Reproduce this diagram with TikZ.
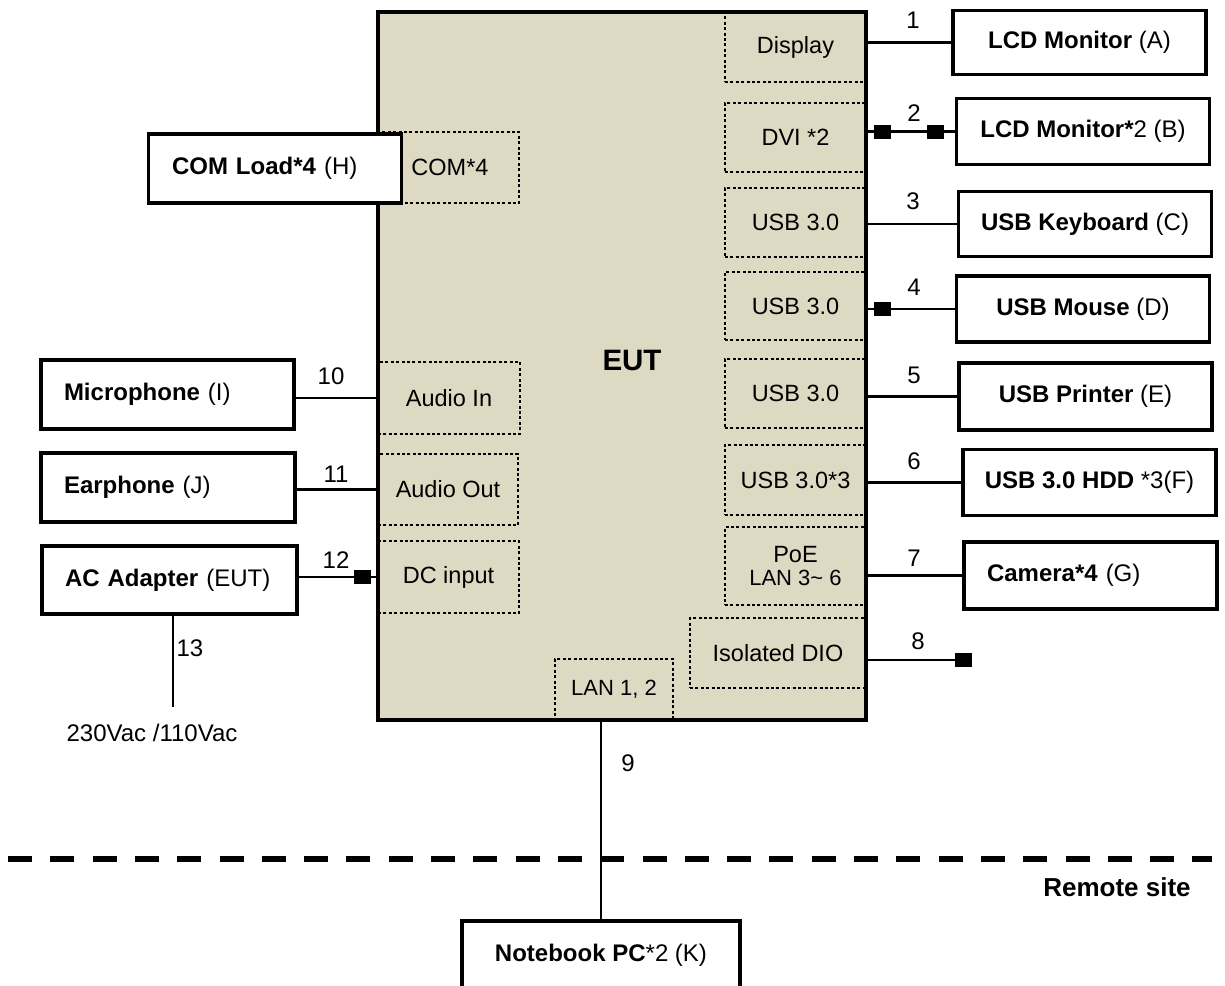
\documentclass[tikz,border=0pt]{standalone}
\usepackage{fontspec}
\setmainfont{Liberation Sans}
\definecolor{eutfill}{RGB}{221,217,195}
\begin{document}
\begin{tikzpicture}[x=1pt,y=-1pt,
  port/.style={draw, line width=2.8pt, dash pattern=on 3pt off 2.4pt, inner sep=0pt, align=center, font=\fontsize{23.5}{27}\selectfont},
  dev/.style={draw, line width=3.5pt, fill=white, inner sep=0pt, minimum width=253pt, minimum height=66pt, font=\fontsize{24}{28}\selectfont},
  devl/.style={dev, align=left, inner xsep=23pt},
  wire/.style={line width=2.8pt},
  num/.style={font=\fontsize{24}{28}\selectfont, inner sep=0pt},
  sq/.style={fill=black, minimum width=17pt, minimum height=14pt, inner sep=0pt},
  small/.style={font=\fontsize{22}{25}\selectfont}
]
\useasboundingbox (0,0) rectangle (1225,985);

% EUT body
\node[fill=eutfill, minimum width=488pt, minimum height=708pt, inner sep=0pt] (eut) at (622,366) {};

% ports (dotted)
\node[port, minimum width=141pt, minimum height=70pt] (pDisp) at (795.5,47) {Display};
\node[port, minimum width=141pt, minimum height=69pt] (pDVI) at (795.5,137.5) {DVI *2};
\node[port, minimum width=141pt, minimum height=69pt] (pUSBa) at (795.5,222.5) {USB 3.0};
\node[port, minimum width=141pt, minimum height=68pt] (pUSBb) at (795.5,306) {USB 3.0};
\node[port, minimum width=141pt, minimum height=69pt] (pUSBc) at (795.5,393.5) {USB 3.0};
\node[port, minimum width=141pt, minimum height=70pt] (pUSBd) at (795.5,480) {USB 3.0*3};
\node[port, minimum width=141pt, minimum height=78pt] (pPoE) at (795.5,566) {PoE\\[-4pt]{\fontsize{22}{25}\selectfont LAN 3\textasciitilde{} 6}};
\node[port, minimum width=176pt, minimum height=70pt] (pDIO) at (778,653) {Isolated DIO};
\node[port, minimum width=118pt, minimum height=61pt, small] (pLAN) at (614,689.5) {LAN 1, 2};
\node[port, minimum width=141pt, minimum height=71pt] (pCOM) at (448.5,167.5) {\hspace*{3pt}COM*4};
\node[port, minimum width=142pt, minimum height=72pt] (pAin) at (449,398) {Audio In};
\node[port, minimum width=140pt, minimum height=71pt] (pAout) at (448,489.5) {Audio Out};
\node[port, minimum width=141pt, minimum height=72pt] (pDC) at (448.5,577) {DC input};

\draw[line width=3.5pt] (eut.north west) rectangle (eut.south east);
\node[font=\bfseries\fontsize{29.5}{32}\selectfont, inner sep=0pt] (eutlabel) at (632,360) {EUT};

% devices right
\node[dev, minimum height=64pt] (dA) at (1079.5,42.5) {\textbf{LCD Monitor} (A)};
\node[dev] (dB) at (1083,131.5) {\textbf{LCD Monitor*}2 (B)};
\node[dev, minimum height=65pt] (dC) at (1085,224) {\textbf{USB Keyboard} (C)};
\node[dev] (dD) at (1083,309) {\textbf{USB Mouse} (D)};
\node[dev, minimum height=67pt] (dE) at (1085.5,396.5) {\textbf{USB Printer} (E)};
\node[dev] (dF) at (1089.5,482.5) {\textbf{USB 3.0 HDD} *3(F)};
\node[devl, text width=207pt, minimum height=67pt] (dG) at (1090.5,575.5) {\textbf{Camera*4} (G)};

% devices left
\node[devl, text width=206pt, minimum height=69pt] (dH) at (275,168.5) {\textbf{COM Load*4} (H)};
\node[devl, text width=207pt, minimum height=69pt] (dI) at (167.5,394.5) {\textbf{Microphone} (I)};
\node[devl, text width=208pt, minimum height=69pt] (dJ) at (168,487.5) {\textbf{Earphone} (J)};
\node[devl, text width=209pt, minimum height=68pt] (dK) at (169.5,580) {\textbf{AC Adapter} (EUT)};

% remote device
\node[dev, minimum width=278pt, minimum height=68pt] (dL) at (601,955) {\textbf{Notebook PC}*2 (K)};

% connectors right
\draw[wire] (dA.west -| eut.east) -- (dA.west);
\draw[wire] (dB.west -| eut.east) -- node[sq, pos=0.183]{} node[sq, pos=0.778]{} (dB.west);
\draw[wire] (dC.west -| eut.east) -- (dC.west);
\draw[wire] (dD.west -| eut.east) -- node[sq, pos=0.183]{} (dD.west);
\draw[wire] (dE.west -| eut.east) -- (dE.west);
\draw[wire] (dF.west -| eut.east) -- (dF.west);
\draw[wire] (dG.west -| eut.east) -- (dG.west);
\node[sq] (sq8) at (963.5,660) {};
\draw[wire] (sq8.center -| eut.east) -- (sq8.center);

% connectors left
\draw[wire] (pAin.west -| dI.east) -- (pAin.west);
\draw[wire] (pAout.west -| dJ.east) -- (pAout.west);
\draw[wire] (pDC.west -| dK.east) -- node[sq, pos=0.815]{} (pDC.west);
\coordinate (c13) at (173,707);
\draw[wire] (c13 |- dK.south) -- (c13);
\node[font=\fontsize{24}{28}\selectfont, inner sep=0pt] (mains) at (152,733) {230Vac /110Vac};

% LAN
\draw[wire] (dL.north) -- (dL.north |- eut.south);

% remote site separator
\coordinate (dl) at (8,859);
\coordinate (dr) at (1212,859);
\draw[line width=5.5pt, dash pattern=on 24pt off 18.3pt] (dl) -- (dr);
\node[font=\bfseries\fontsize{26}{30}\selectfont, inner sep=0pt] (remote) at (1117,887) {Remote site};

% numbers
\node[num] (n1) at (913,20) {1};
\node[num] (n2) at (914,113) {2};
\node[num] (n3) at (913,201) {3};
\node[num] (n4) at (914,287) {4};
\node[num] (n5) at (914,375) {5};
\node[num] (n6) at (914,461) {6};
\node[num] (n7) at (914,558) {7};
\node[num] (n8) at (918,641) {8};
\node[num] (n9) at (628,763) {9};
\node[num] (n10) at (331,376) {10};
\node[num] (n11) at (336,474) {11};
\node[num] (n12) at (336,560) {12};
\node[num] (n13) at (190,648) {13};
\end{tikzpicture}
\end{document}
